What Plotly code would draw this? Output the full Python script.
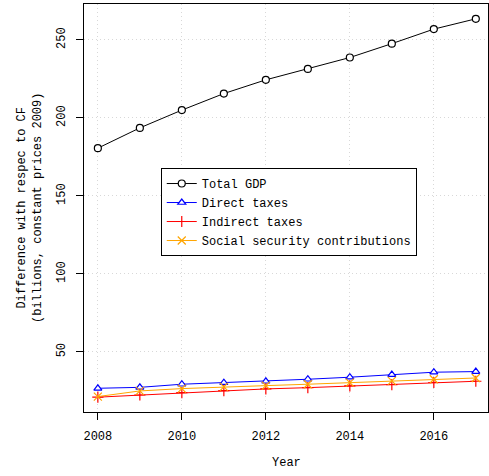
import plotly.graph_objects as go

years = [2008, 2009, 2010, 2011, 2012, 2013, 2014, 2015, 2016, 2017]
total_gdp = [180.6, 193.6, 205.0, 215.6, 224.4, 231.4, 238.7, 247.6, 256.9, 263.5]
direct_taxes = [26.7, 27.3, 29.3, 30.3, 31.2, 32.5, 33.8, 35.5, 37.0, 37.4]
indirect_taxes = [21.0, 22.4, 23.9, 25.2, 26.3, 27.1, 28.2, 29.1, 30.4, 31.2]
social_security = [21.4, 25.0, 26.5, 27.6, 28.4, 29.3, 30.3, 31.4, 32.5, 33.3]

x_ticks = [2008, 2010, 2012, 2014, 2016]
y_ticks = [50, 100, 150, 200, 250]

FONT = "Liberation Mono, DejaVu Sans Mono, monospace"

series = [
    ("Total GDP", total_gdp, "black", "circle", "white"),
    ("Direct taxes", direct_taxes, "blue", "triangle-up", "white"),
    ("Indirect taxes", indirect_taxes, "red", "cross-thin-open", None),
    ("Social security contributions", social_security, "orange", "x-thin-open", None),
]

fig = go.Figure()
for name, vals, color, sym, fill in series:
    marker = dict(symbol=sym, size=8 if sym.startswith(("cross", "x")) else 7,
                  line=dict(color=color, width=1.2))
    marker["color"] = fill if fill else color
    fig.add_trace(go.Scatter(
        x=years, y=vals, name=name, mode="lines+markers",
        line=dict(color=color, width=1),
        marker=marker,
    ))

axis_common = dict(
    showline=True, linecolor="black", linewidth=1, mirror=True,
    ticks="outside", ticklen=7, tickcolor="black", tickwidth=1,
    showgrid=True, gridcolor="#D8D8D8", griddash="1px,3px", gridwidth=1,
    zeroline=False, automargin=False,
    tickfont=dict(family=FONT, size=12, color="black"),
)

fig.update_layout(
    width=489, height=476,
    margin=dict(l=84, r=1, t=4, b=64),
    paper_bgcolor="white", plot_bgcolor="white",
    font=dict(family=FONT, size=12, color="black"),
    showlegend=True,
    legend=dict(
        x=0.19, y=0.598, xanchor="left", yanchor="top",
        bordercolor="black", borderwidth=1, bgcolor="white",
        font=dict(family=FONT, size=12, color="black"),
        tracegroupgap=0, itemwidth=30,
    ),
    xaxis=dict(
        **axis_common,
        range=[2007.67, 2017.29],
        tickvals=x_ticks,
        ticklabelstandoff=6,
    ),
    yaxis=dict(
        **axis_common,
        range=[11.5, 273.0],
        tickvals=y_ticks,
        tickangle=-90,
        ticklabelstandoff=6,
    ),
    annotations=[
        dict(text="Difference with respec to CF<br>(billions, constant prices 2009)",
             xref="paper", yref="paper", x=-(84 - 30) / 404, y=0.5,
             xanchor="center", yanchor="middle", textangle=-90, showarrow=False,
             font=dict(family=FONT, size=12, color="black")),
        dict(text="Year", xref="paper", yref="paper", x=0.5, y=0,
             xanchor="center", yanchor="middle", yshift=-51, showarrow=False,
             font=dict(family=FONT, size=12, color="black")),
    ],
)

fig.write_html("out.html", config={"displayModeBar": False},
               post_script="document.body.style.margin='0';")
